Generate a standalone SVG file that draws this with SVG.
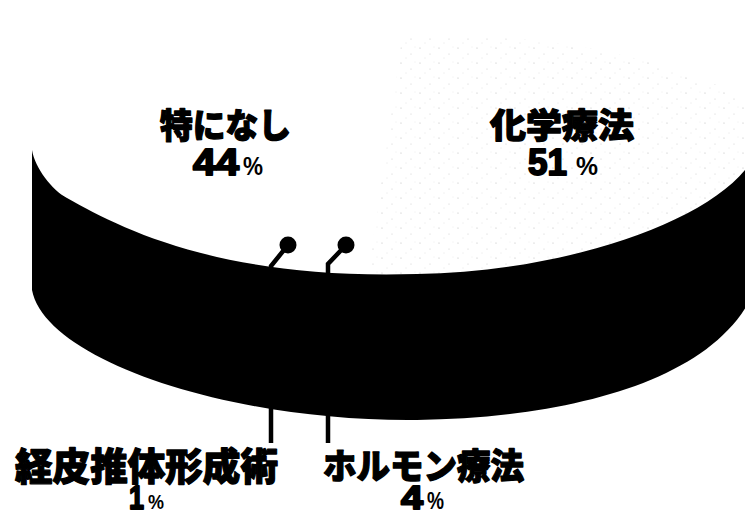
<svg xmlns="http://www.w3.org/2000/svg" width="745" height="513" viewBox="0 0 745 513">
  <defs>
    <pattern id="speck" width="19" height="15" patternUnits="userSpaceOnUse">
      <circle cx="2" cy="3" r="0.6" fill="#666"/>
      <circle cx="12" cy="9" r="0.5" fill="#777"/>
      <circle cx="7" cy="13" r="0.45" fill="#888"/>
      <circle cx="16" cy="2" r="0.4" fill="#999"/>
    </pattern>
    <style>
      .lbl { font-family: "Noto Sans CJK JP", "Noto Sans", sans-serif; font-weight: 900; fill: #000; stroke: #000; stroke-width: 1.3; stroke-linejoin: round; }
      .num { font-family: "Liberation Sans", Arial, sans-serif; font-weight: bold; fill: #000; stroke: #000; stroke-width: 2; stroke-linejoin: round; }
      .pct { font-family: "Liberation Sans", Arial, sans-serif; font-weight: bold; fill: #000; }
      .leader { fill: none; stroke: #000; stroke-width: 4.5; }
      .dot { fill: #000; }
    </style>
  </defs>
  <rect width="745" height="513" fill="#fff"/>

  <g id="pie">
    <g id="slice-top-right">
      <path d="M 368 276 L 402 38 C 520 30 650 50 750 100 L 750 300 Z" fill="url(#speck)" opacity="0.45"/>
    </g>
    <g id="side">
      <path fill="#000" d="M 32 150 C 35 168 52 190 67 198 C 120 228 220 280 417 274 C 560 272 700 225 745 170 L 750 160 L 750 300 C 705 385 560 418 417 420 C 230 422 45 360 32 290 Z"/>
    </g>
  </g>

  <g id="connectors">
    <path class="leader" d="M 288 245 L 271 266 L 271 443"/>
    <circle class="dot" cx="288" cy="245" r="8.5"/>
    <path class="leader" d="M 346 245 L 328 264 L 328 443"/>
    <circle class="dot" cx="346" cy="245" r="8.5"/>
  </g>

  <g id="label-tokuni">
    <text class="lbl" x="160" y="138" font-size="34" textLength="131" lengthAdjust="spacingAndGlyphs">特になし</text>
    <text class="num" x="193" y="175" font-size="37" textLength="46" lengthAdjust="spacingAndGlyphs">44</text>
    <text class="pct" x="243" y="175" font-size="26" textLength="20" lengthAdjust="spacingAndGlyphs">%</text>
  </g>

  <g id="label-kagaku">
    <text class="lbl" x="490" y="138" font-size="34" textLength="144" lengthAdjust="spacingAndGlyphs">化学療法</text>
    <text class="num" x="528" y="175" font-size="37" textLength="39" lengthAdjust="spacingAndGlyphs">51</text>
    <text class="pct" x="576" y="175" font-size="26" textLength="22" lengthAdjust="spacingAndGlyphs">%</text>
  </g>

  <g id="label-keihi">
    <text class="lbl" x="15" y="480" font-size="38" textLength="263" lengthAdjust="spacingAndGlyphs">経皮推体形成術</text>
    <text class="num" x="129" y="509" font-size="34" textLength="15" lengthAdjust="spacingAndGlyphs">1</text>
    <text class="pct" x="148" y="509" font-size="21" textLength="16" lengthAdjust="spacingAndGlyphs" font-weight="normal">%</text>
  </g>

  <g id="label-hormone">
    <text class="lbl" x="323" y="479" font-size="35" textLength="201" lengthAdjust="spacingAndGlyphs">ホルモン療法</text>
    <text class="num" x="401" y="509" font-size="34" textLength="22" lengthAdjust="spacingAndGlyphs">4</text>
    <text class="pct" x="427" y="509" font-size="24" textLength="17" lengthAdjust="spacingAndGlyphs">%</text>
  </g>
</svg>
